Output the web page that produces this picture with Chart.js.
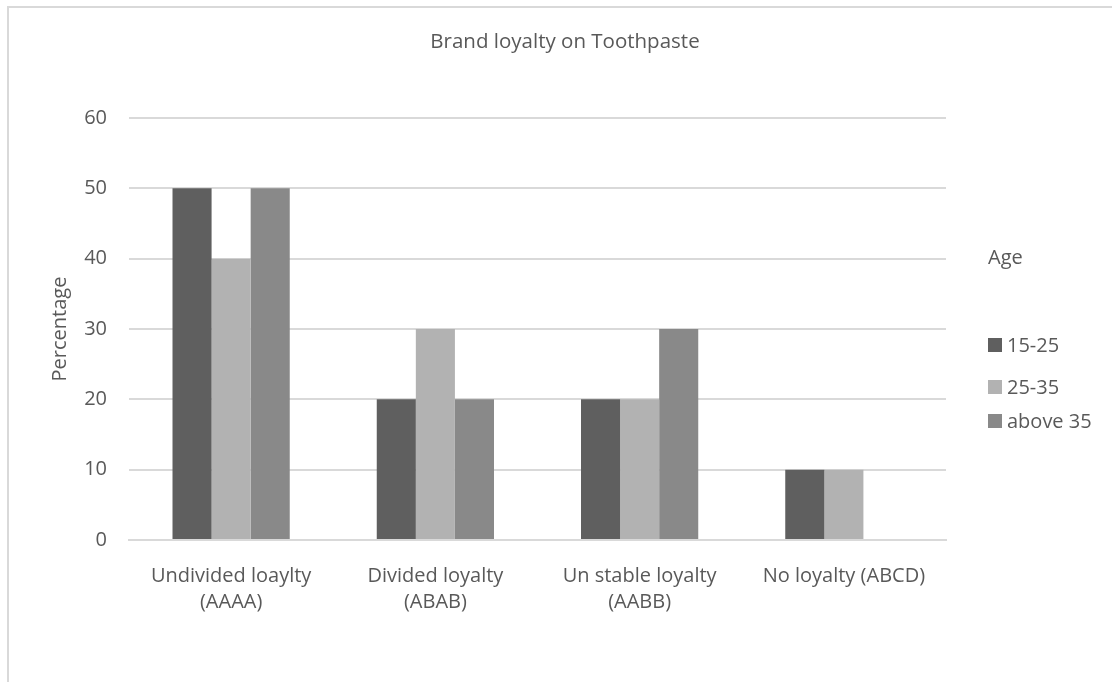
<!DOCTYPE html>
<html>
<head>
<meta charset="utf-8">
<script src="https://cdn.jsdelivr.net/npm/chart.js@4"></script>
<style>
  body { margin: 0; background: #fff; }
  #wrap { width: 1112px; height: 682px; position: relative; }
</style>
</head>
<body>
<div id="wrap"><canvas id="loyalty" width="1112" height="682"></canvas></div>
<script>
var ctx = document.getElementById('loyalty').getContext('2d');

/* Brand loyalty on toothpaste, by age group */
const chartTitle = 'Brand loyalty on Toothpaste';
const categories = [['Undivided loaylty', '(AAAA)'], ['Divided loyalty', '(ABAB)'], ['Un stable loyalty', '(AABB)'], 'No loyalty (ABCD)'];
const ageGroups = ['15-25', '25-35', 'above 35'];
const age15to25 = [50, 20, 20, 10];
const age25to35 = [40, 30, 20, 10];
const ageAbove35 = [50, 20, 30, 0];
const yTicks = [0, 10, 20, 30, 40, 50, 60];

const colors = ['#5f5f5f', '#b2b2b2', '#898989'];
const fontFamily = '"Open Sans", "Liberation Sans", sans-serif';

// light frame around the chart plus the centred title
const framePlugin = {
    id: 'frame',
    beforeDraw(chart) {
        const c = chart.ctx;
        c.save();
        c.strokeStyle = '#d9d9d9';
        c.lineWidth = 2;
        c.beginPath();
        c.moveTo(8, 700);
        c.lineTo(8, 7);
        c.lineTo(1120, 7);
        c.stroke();
        c.fillStyle = '#595959';
        c.font = '20.5px ' + fontFamily;
        c.textAlign = 'center';
        c.textBaseline = 'middle';
        c.fillText(chartTitle, 565, 42);
        c.restore();
    }
};

// legend on the right with "Age" heading
const sideLegend = {
    id: 'sideLegend',
    afterDraw(chart) {
        const c = chart.ctx;
        c.save();
        c.fillStyle = '#595959';
        c.textBaseline = 'middle';
        c.font = '20px ' + fontFamily;
        c.fillText('Age', 988, 258);
        const rows = [345, 387, 421];
        chart.data.datasets.forEach(function (ds, i) {
            c.fillStyle = ds.backgroundColor;
            c.fillRect(988, rows[i] - 7, 14, 14);
            c.fillStyle = '#595959';
            c.fillText(ds.label, 1007, rows[i] + 1);
        });
        c.restore();
    }
};

var myChart = new Chart(ctx, {
    type: 'bar',
    data: {
        labels: categories,
        datasets: [
            { label: ageGroups[0], data: age15to25, backgroundColor: colors[0] },
            { label: ageGroups[1], data: age25to35, backgroundColor: colors[1] },
            { label: ageGroups[2], data: ageAbove35, backgroundColor: colors[2] }
        ]
    },
    options: {
        responsive: false,
        animation: false,
        layout: { padding: { top: 118, right: 166, bottom: 52, left: 44 } },
        datasets: {
            bar: { barPercentage: 1, categoryPercentage: 0.574 }
        },
        plugins: {
            legend: { display: false },
            tooltip: { enabled: false },
            title: { display: false }
        },
        scales: {
            x: {
                grid: { display: false },
                border: { color: '#d9d9d9', width: 2 },
                ticks: {
                    color: '#595959',
                    font: { family: fontFamily, size: 20, lineHeight: 1.3 },
                    maxRotation: 0,
                    padding: 15
                }
            },
            y: {
                min: 0,
                max: 60,
                afterBuildTicks(scale) {
                    scale.ticks = yTicks.map(function (v) { return { value: v }; });
                },
                afterFit(scale) { scale.width = 85; },
                grid: { color: '#d9d9d9', lineWidth: 2, drawTicks: false },
                border: { display: false },
                ticks: {
                    color: '#595959',
                    font: { family: fontFamily, size: 20 },
                    padding: 22
                },
                title: {
                    display: true,
                    text: 'Percentage',
                    color: '#595959',
                    font: { family: fontFamily, size: 20 }
                }
            }
        }
    },
    plugins: [framePlugin, sideLegend]
});
</script>
</body>
</html>
